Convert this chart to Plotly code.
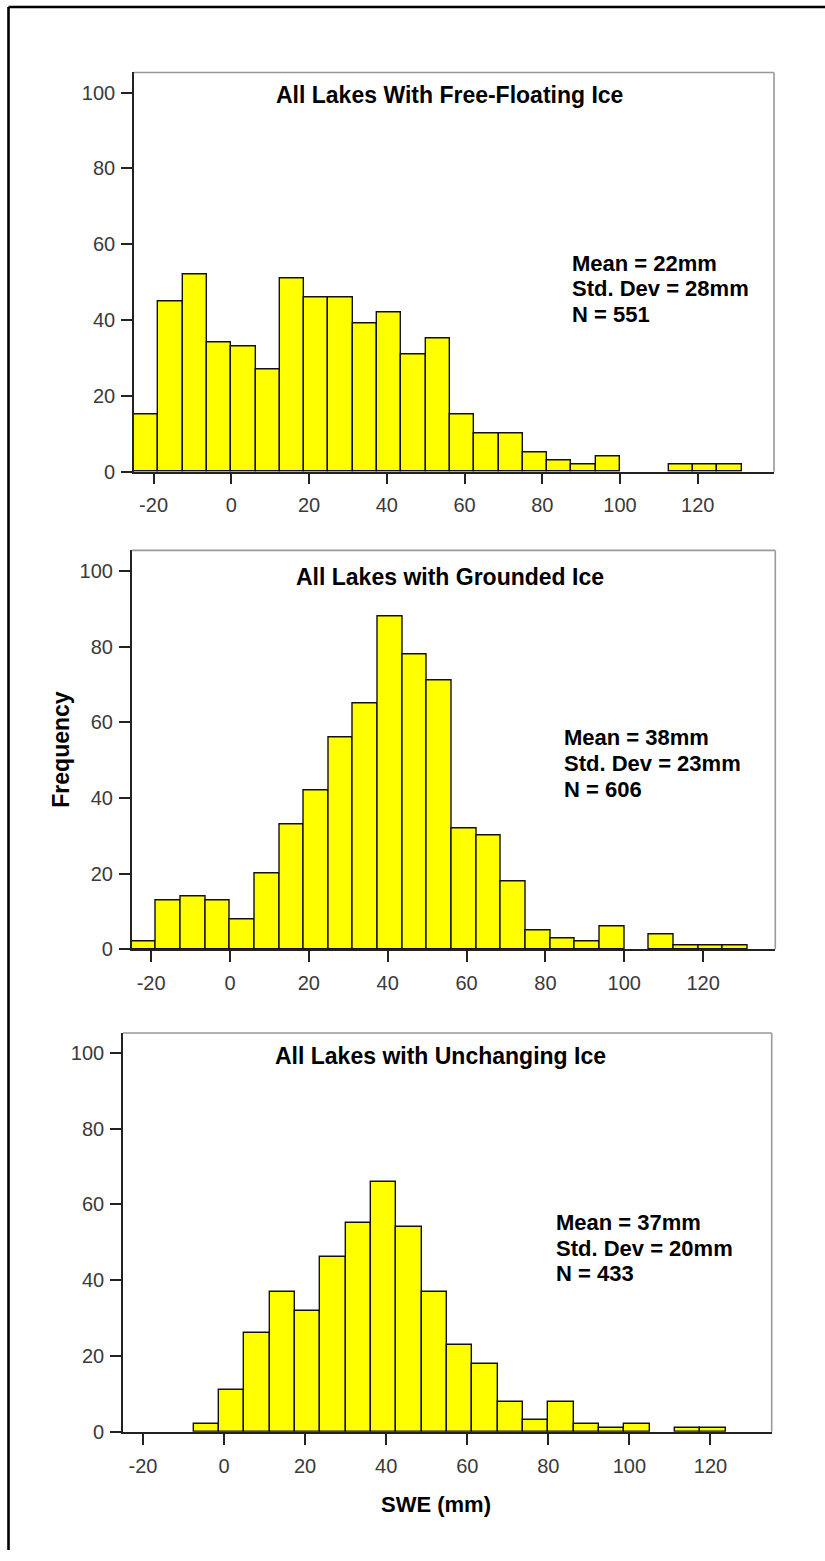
import plotly.graph_objects as go

# ---------------- data ----------------
bin_width = 6.25

titles = ["All Lakes With Free-Floating Ice",
          "All Lakes with Grounded Ice",
          "All Lakes with Unchanging Ice"]

free_start = -25.0
free_counts = [15, 45, 52, 34, 33, 27, 51, 46, 46, 39, 42, 31, 35, 15, 10, 10, 5, 3, 2, 4, 0, 0, 2, 2, 2]

grounded_start = -25.0
grounded_counts = [2, 13, 14, 13, 8, 20, 33, 42, 56, 65, 88, 78, 71, 32, 30, 18, 5, 3, 2, 6, 0, 4, 1, 1, 1]

unchanging_start = -7.5
unchanging_counts = [2, 11, 26, 37, 32, 46, 55, 66, 54, 37, 23, 18, 8, 3, 8, 2, 1, 2, 0, 1, 1]

stats_text = [
    ["Mean = 22mm", "Std. Dev = 28mm", "N = 551"],
    ["Mean = 38mm", "Std. Dev = 23mm", "N = 606"],
    ["Mean = 37mm", "Std. Dev = 20mm", "N = 433"],
]

x_ticks = [-20, 0, 20, 40, 60, 80, 100, 120]
x_tick_labels = ["-20", "0", "20", "40", "60", "80", "100", "120"]
y_ticks = [0, 20, 40, 60, 80, 100]
y_tick_labels = ["0", "20", "40", "60", "80", "100"]

x_label = "SWE (mm)"
y_label = "Frequency"

# ---------------- layout geometry (pixels) ----------------
W, H = 825, 1561
FONT = "Liberation Sans, Arial, sans-serif"

# plot boxes: left, right, top, bottom (px)
boxes = [(134, 774, 73, 475), (131.7, 775.3, 554.3, 956), (123, 771.7, 1040.3, 1442)]
x_ranges = [[-25.03, 139.6], [-24.92, 138.3], [-24.92, 135.1]]
y_ranges = [[0, 105.3], [0, 105.4], [0, 105.2]]

title_pos = [(449.7, 95.3), (450.5, 581), (440.7, 1063.7)]
stats_pos = [(570, [265, 291, 316.7]), (561.7, [742.7, 768.7, 794.7]), (554.3, [1231, 1257, 1282.7])]


def px(x):
    return x / W


def py(y):
    return 1 - y / H


series = [(free_start, free_counts), (grounded_start, grounded_counts), (unchanging_start, unchanging_counts)]

fig = go.Figure()
layout = dict(
    width=W, height=H,
    margin=dict(l=0, r=0, t=0, b=0),
    paper_bgcolor="white", plot_bgcolor="white",
    showlegend=False,
    bargap=0,
    font=dict(family=FONT, color="#333333"),
)
shapes = []
annotations = []

for i, (start, counts) in enumerate(series):
    n = i + 1
    xa = "x" if n == 1 else f"x{n}"
    ya = "y" if n == 1 else f"y{n}"
    xs, ys = [], []
    for k, c in enumerate(counts):
        if c > 0:
            xs.append(start + bin_width * (k + 0.5))
            ys.append(c)
    fig.add_trace(go.Bar(
        x=xs, y=ys, width=bin_width,
        marker=dict(color="#FFFF00", line=dict(color="#111111", width=1.4)),
        xaxis=xa, yaxis=ya, hoverinfo="x+y",
    ))
    l, r, t, b = boxes[i]
    axkey = "xaxis" if n == 1 else f"xaxis{n}"
    aykey = "yaxis" if n == 1 else f"yaxis{n}"
    layout[axkey] = dict(
        domain=[px(l), px(r)], anchor=ya, range=x_ranges[i],
        tickmode="array", tickvals=x_ticks, ticktext=x_tick_labels,
        ticks="outside", ticklen=11, tickwidth=1.5, tickcolor="#222222",
        showline=True, linecolor="#222222", linewidth=1.6,
        showgrid=False, zeroline=False,
        tickfont=dict(family=FONT, size=20, color="#3a3a3a"),
        ticklabelstandoff=4,
        fixedrange=True,
    )
    layout[aykey] = dict(
        domain=[py(b), py(t)], anchor=xa, range=y_ranges[i],
        tickmode="array", tickvals=y_ticks, ticktext=y_tick_labels,
        ticks="outside", ticklen=11, tickwidth=1.5, tickcolor="#222222",
        showline=True, linecolor="#222222", linewidth=1.6,
        showgrid=False, zeroline=False,
        tickfont=dict(family=FONT, size=20, color="#3a3a3a"),
        ticklabelstandoff=2,
        fixedrange=True,
    )
    # top and right frame lines (gray)
    shapes.append(dict(type="line", xref="paper", yref="paper",
                       x0=px(l), x1=px(r), y0=py(t), y1=py(t),
                       line=dict(color="#999999", width=1.6)))
    shapes.append(dict(type="line", xref="paper", yref="paper",
                       x0=px(r), x1=px(r), y0=py(t), y1=py(b),
                       line=dict(color="#999999", width=1.6)))
    # title
    tx, ty = title_pos[i]
    annotations.append(dict(text=f"<b>{titles[i]}</b>", xref="paper", yref="paper",
                            x=px(tx), y=py(ty), xanchor="center", yanchor="middle",
                            showarrow=False, font=dict(family=FONT, size=23, color="#000000")))
    sx, sys_ = stats_pos[i]
    for line, sy in zip(stats_text[i], sys_):
        annotations.append(dict(text=f"<b>{line}</b>", xref="paper", yref="paper",
                                x=px(sx), y=py(sy), xanchor="left", yanchor="middle",
                                showarrow=False, font=dict(family=FONT, size=22, color="#000000")))

# axis titles
annotations.append(dict(text=f"<b>{y_label}</b>", xref="paper", yref="paper",
                        x=px(61), y=py(755), xanchor="center", yanchor="middle", textangle=-90,
                        showarrow=False, font=dict(family=FONT, size=23, color="#000000")))
annotations.append(dict(text=f"<b>{x_label}</b>", xref="paper", yref="paper",
                        x=px(436), y=py(1515), xanchor="center", yanchor="middle",
                        showarrow=False, font=dict(family=FONT, size=22, color="#000000")))

# outer frame (top and left edges only, as cropped in the reference)
shapes.append(dict(type="line", xref="paper", yref="paper", x0=px(8.5), x1=1.0, y0=py(7), y1=py(7),
                   line=dict(color="#000000", width=2.6)))
shapes.append(dict(type="line", xref="paper", yref="paper", x0=px(8.5), x1=px(8.5), y0=py(7), y1=0.0,
                   line=dict(color="#000000", width=2.6)))

layout["shapes"] = shapes
layout["annotations"] = annotations
fig.update_layout(**layout)
fig.write_html("out.html")
